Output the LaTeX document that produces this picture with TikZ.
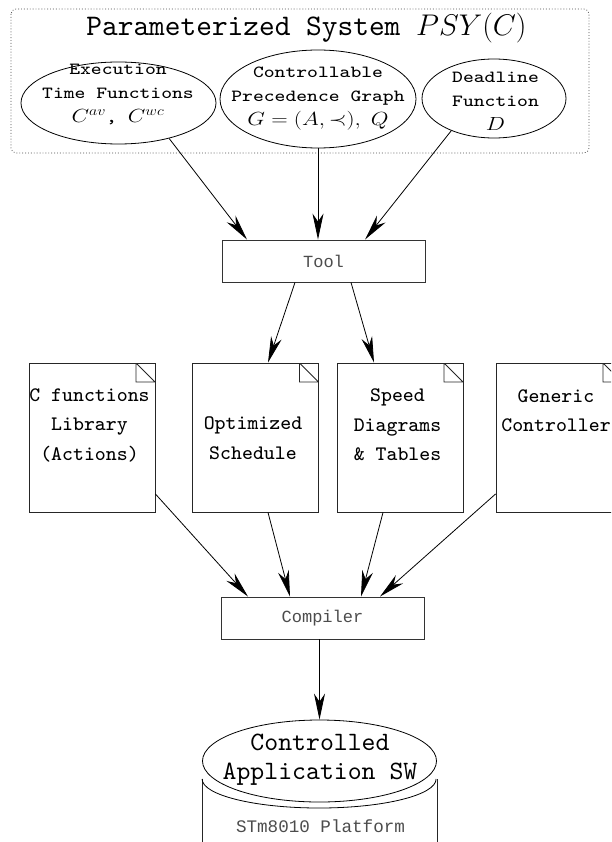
\RequirePackage{fix-cm}
\documentclass[tikz,border=0pt]{standalone}
\usepackage{fontspec}
\newfontfamily\couriertt{Liberation Mono}
\newfontfamily\ttsmall{lmmono8-regular.otf}
\newfontfamily\ttbig{lmmono10-regular.otf}
\usetikzlibrary{shapes.geometric,arrows.meta}

% multi-line centred text, first baseline on the box baseline
\newcommand\lines[1]{\begin{tabular}[t]{@{}c@{}}#1\end{tabular}}
\newcommand\wlines[2]{\scalebox{#1}[1]{\lines{#2}}}
\newcommand\mathline[1]{{\fontsize{19}{24}\selectfont$#1$}}

\begin{document}
\begin{tikzpicture}[x=1pt,y=-1pt,
  ln/.style={line width=0.8pt},
  arr/.style={ln, -{Stealth[length=26pt,width=11pt,inset=8pt]}},
  oval/.style={ellipse, draw, ln, inner sep=0pt},
  stage/.style={rectangle, draw=black!80, line width=0.9pt,
    minimum width=203pt, minimum height=42pt, inner sep=0pt,
    text=black!70, font=\fontsize{17}{20}\selectfont\couriertt},
  doc/.style={rectangle, draw=black!85, line width=0.9pt,
    minimum width=126pt, minimum height=149pt, inner sep=0pt,
    path picture={\draw[black!85, line width=0.9pt]
      ([xshift=-19pt]path picture bounding box.north east)
      |- ([yshift=-19pt]path picture bounding box.north east) -- cycle;}},
  ovaltxt/.style={anchor=base, inner sep=0pt,
    font=\fontsize{17}{24}\selectfont\ttsmall},
  doctxt/.style={anchor=base, inner sep=0pt,
    font=\fontsize{20.6}{29.5}\selectfont\ttsmall},
  plattxt/.style={anchor=base, inner sep=0pt, text=black!70,
    font=\fontsize{17.6}{20}\selectfont\couriertt},
]
\useasboundingbox (0,0) rectangle (611,842);
\clip (0,0) rectangle (611,842);

% parameterized system frame
\draw[black!70, line width=0.7pt, dash pattern=on 0.9pt off 2pt,
  rounded corners=5pt] (11,9) rectangle (589,153);
\node[anchor=base, inner sep=0pt, font=\fontsize{29.9}{36}\selectfont\ttbig]
  (title) at (306.5,36) {Parameterized System $PSY(C)$};

% inputs
\node[oval, minimum width=195pt, minimum height=82pt] (e1) at (118.5,103) {};
\node[oval, minimum width=196pt, minimum height=98pt] (e2) at (318,99) {};
\node[oval, minimum width=144pt, minimum height=79pt] (e3) at (494,98.5) {};
\node[ovaltxt] (e1t) at (118,74.5)
  {\wlines{1.2}{Execution\\Time Functions\\\mathline{C^{av}}, \mathline{C^{wc}}}};
\node[ovaltxt] (e2t) at (318,78)
  {\wlines{1.2}{Controllable\\Precedence Graph\\\mathline{G=(A,\prec),\;Q}}};
\node[ovaltxt] (e3t) at (495.5,83)
  {\wlines{1.2}{Deadline\\Function\\\mathline{D}}};

% tool
\node[stage] (tool) at (323.5,261) {Tool};
\draw[arr] (e1.-35) -- ([xshift=-76.5pt]tool.north);
\draw[arr] (e2.south) -- (e2.south |- tool.north);
\draw[arr] (e3.-143) -- ([xshift=41.5pt]tool.north);

% documents
\node[doc] (d1) at (92,437.5) {};
\node[doc] (d2) at (255.5,437.5) {};
\node[doc] (d3) at (400,437.5) {};
\node[doc] (d4) at (559,437.5) {};
\node[doctxt] (d1t) at (89.5,401) {\lines{C functions\\Library\\(Actions)}};
\node[doctxt] (d2t) at (253,429.5) {\lines{Optimized\\Schedule}};
\node[doctxt] (d3t) at (397.5,401.5) {\lines{Speed\\Diagrams\\\& Tables}};
\node[doctxt] (d4t) at (556,402) {\lines{Generic\\Controller}};

\draw[arr] ([xshift=-28.5pt]tool.south) -- ([xshift=12.5pt]d2.north);
\draw[arr] ([xshift=27.5pt]tool.south) -- ([xshift=-26pt]d3.north);

% compiler
\node[stage] (comp) at (322.5,618) {Compiler};
\draw[arr] ([yshift=-56.5pt]d1.east) -- ([xshift=-74.5pt]comp.north);
\draw[arr] ([xshift=12.5pt]d2.south) -- ([xshift=-32.5pt]comp.north);
\draw[arr] ([xshift=-17pt]d3.south) -- ([xshift=38.5pt]comp.north);
\draw[arr] ([yshift=-56.5pt]d4.west) -- ([xshift=57.5pt]comp.north);

% platform cylinder
\node[oval, minimum width=234pt, minimum height=82pt] (cyl) at (319.5,761) {};
\draw[arr] (cyl.north |- comp.south) -- (cyl.north);
\draw[ln, black!85] ([yshift=-18pt]cyl.west) -- ++(0,80);
\draw[ln, black!85] ([yshift=-18pt]cyl.east) -- ++(0,80);
\draw[ln] ([yshift=-18pt]cyl.west)
  arc[start angle=180, end angle=0, x radius=117, y radius=29];
\node[anchor=base, inner sep=0pt, font=\fontsize{26.5}{29}\selectfont\ttbig]
  (cylt) at (320,750) {\lines{Controlled\\Application SW}};
\node[plattxt] (plat) at (320.5,832) {STm8010 Platform};
\end{tikzpicture}
\end{document}
